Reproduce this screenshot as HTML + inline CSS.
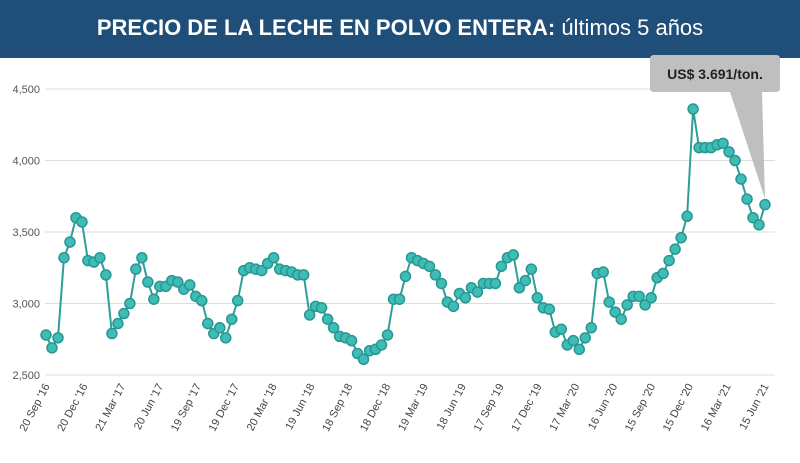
<!DOCTYPE html>
<html><head><meta charset="utf-8"><style>
body{margin:0;width:800px;height:463px;background:#fff;font-family:"Liberation Sans",sans-serif;overflow:hidden}
#hdr{position:absolute;left:0;top:0;width:800px;height:58px;background:#1f4e79;color:#fff;text-align:center;line-height:56px;font-size:22px}
</style></head><body>
<div id="hdr"><b>PRECIO DE LA LECHE EN POLVO ENTERA:</b> últimos 5 años</div>
<svg id="c" width="800" height="463" style="position:absolute;left:0;top:0"></svg>
<script>
const values=[2780,2690,2760,3320,3430,3600,3570,3300,3290,3320,3200,2790,2860,2930,3000,3240,3320,3150,3030,3120,3120,3160,3150,3100,3130,3050,3020,2860,2790,2830,2760,2890,3020,3230,3250,3240,3230,3280,3320,3240,3230,3220,3200,3200,2920,2980,2970,2890,2830,2770,2760,2740,2650,2610,2670,2680,2710,2780,3030,3030,3190,3320,3300,3280,3260,3200,3140,3010,2980,3070,3040,3110,3080,3140,3140,3140,3260,3320,3340,3110,3160,3240,3040,2970,2960,2800,2820,2710,2740,2680,2760,2830,3210,3220,3010,2940,2890,2990,3050,3050,2990,3040,3180,3210,3300,3380,3460,3610,4360,4090,4090,4090,4110,4120,4060,4000,3870,3730,3600,3550,3691];
const tickLabels=["20 Sep '16","20 Dec '16","21 Mar '17","20 Jun '17","19 Sep '17","19 Dec '17","20 Mar '18","19 Jun '18","18 Sep '18","18 Dec '18","19 Mar '19","18 Jun '19","17 Sep '19","17 Dec '19","17 Mar '20","16 Jun '20","15 Sep '20","15 Dec '20","16 Mar '21","15 Jun '21"];
const yTicks=[2500,3000,3500,4000,4500];
const svg=document.getElementById('c'),NS='http://www.w3.org/2000/svg';
const x0=46,x1=765,yb=375,yt=89;
const X=i=>x0+i*(x1-x0)/(values.length-1);
const Y=v=>yb-(v-2500)/2000*(yb-yt);
function mk(t,a){const e=document.createElementNS(NS,t);for(const k in a)e.setAttribute(k,a[k]);svg.appendChild(e);return e;}
yTicks.forEach(v=>{
 const l=mk('line',{x1:45,x2:775,y1:Y(v),y2:Y(v),stroke:'#ddd','stroke-width':1});
 
 
 const t=mk('text',{x:40,y:Y(v)+4,'text-anchor':'end','font-size':11,fill:'#555'});
 t.textContent=v.toLocaleString('en-US');
 
 
});
tickLabels.forEach((s,i)=>{
 const idx=i*(values.length-1)/(tickLabels.length-1);
 const px=X(idx)+4,py=386;
 const t=mk('text',{x:px,y:py,'text-anchor':'end','font-size':11,fill:'#444',transform:`rotate(-62 ${px} ${py})`});
 t.textContent=s;
 
 
});
const ln=mk('polyline',{points:values.map((v,i)=>X(i)+','+Y(v)).join(' '),fill:'none',stroke:'#2e9e9a','stroke-width':2});


values.forEach((v,i)=>{
 const c=mk('circle',{cx:X(i),cy:Y(v),r:5,fill:'#3dbdb5',stroke:'#2a9691','stroke-width':1.5});
 
 
});
const lx=X(values.length-1),ly=Y(values[values.length-1]);
const cp=mk('path',{d:`M654 55 H776 Q780 55 780 59 V88 Q780 92 776 92 H762 L${lx} ${ly-6} L730 92 H654 Q650 92 650 88 V59 Q650 55 654 55 Z`,fill:'#bfbfbf'});


const ct=mk('text',{x:715,y:79,'text-anchor':'middle','font-size':14,'font-weight':'bold',fill:'#222'});
ct.textContent='US$ 3.691/ton.';


</script>
</body></html>
